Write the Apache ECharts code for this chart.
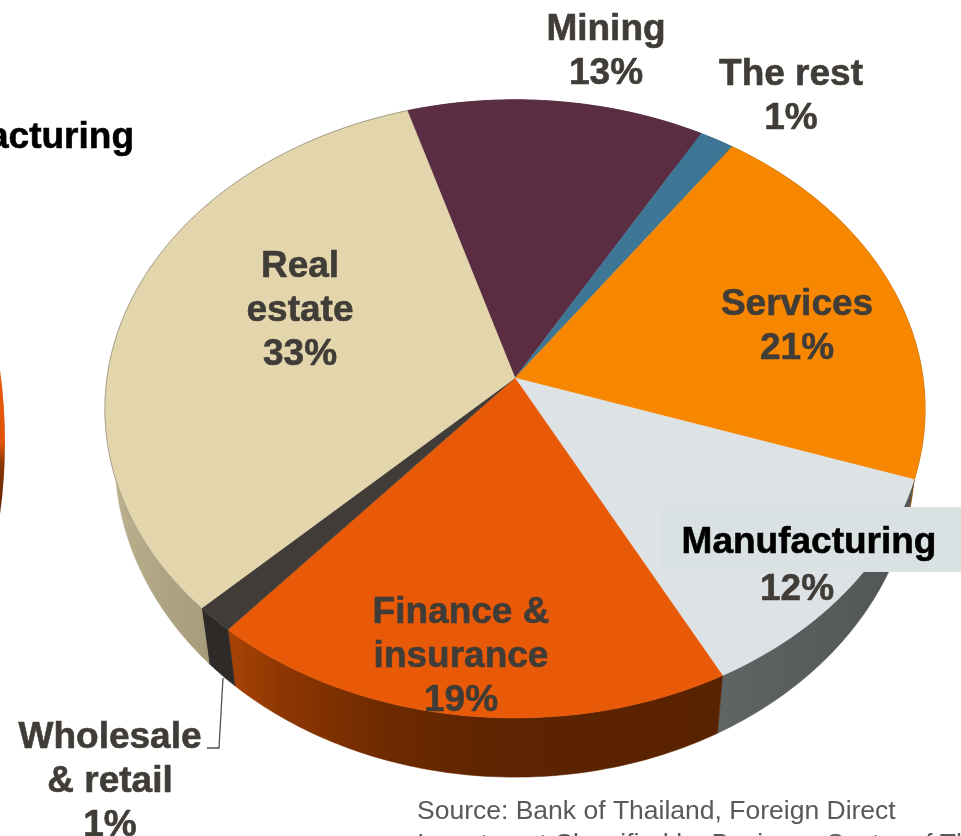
<!DOCTYPE html>
<html><head><meta charset="utf-8">
<style>html,body{margin:0;padding:0;background:#fff;overflow:hidden}#c{width:961px;height:836px}</style>
<script src="https://cdn.jsdelivr.net/npm/echarts@6/dist/echarts.min.js"></script>
</head><body><div id="c"></div>
<script>
// Data, clockwise from the top-left boundary of the Mining slice
const categories = ['Mining', 'The rest', 'Services', 'Manufacturing', 'Finance & insurance', 'Wholesale & retail', 'Real estate'];
const labelShares = [13, 1, 21, 12, 19, 1, 33];                    // as printed on the chart
const drawnShares = [12.9, 1.5, 20.4, 12.1, 18.9, 1.4, 32.6];
const topColors = ['#5A2D42', '#3E7695', '#F78700', '#DDE3E5', '#E85908', '#413C37', '#E3D5AC'];

const START_DEG = 106.8;
const K = 0.1;                                   // perspective factor of the tilted disc
const topRim = {cx: 515, cy: 378, a: 408, s: 306};
const lowRim = {cx: 515, cy: 426, a: 398, s: 316};
const rad = d => d * Math.PI / 180;
function project(r, deg) {
  const t = rad(deg), w = 1 + K * Math.sin(t);
  return [r.cx + r.a * Math.cos(t) / w, r.cy - r.s * Math.sin(t) / w];
}
function arc(r, d0, d1) {
  const n = Math.max(2, Math.ceil(Math.abs(d1 - d0))), pts = [];
  for (let i = 0; i <= n; i++) pts.push(project(r, d0 + (d1 - d0) * i / n));
  return pts;
}
function sliceRange(i) {
  const total = drawnShares.reduce((a, b) => a + b, 0);
  let before = 0;
  for (let j = 0; j < i; j++) before += drawnShares[j];
  return [START_DEG - before / total * 360, START_DEG - (before + drawnShares[i]) / total * 360];
}
const hGrad = (x0, x1, stops) => new echarts.graphic.LinearGradient(x0, 0, x1, 0,
  stops.map(s => ({offset: s[0], color: s[1]})), true);
const wallFill = [
  '#3A1D2A', '#274A5E', '#8B4B00',
  hGrad(718, 900, [[0, '#5F6464'], [0.4, '#5A5E5E'], [1, '#525656']]),
  hGrad(230, 720, [[0, '#A84306'], [0.1, '#8F3703'], [0.3, '#702B00'], [0.55, '#5C2400'], [1, '#5A2300']]),
  '#2E2A27',
  hGrad(110, 212, [[0, '#BDB290'], [0.5, '#B0A582'], [1, '#A69C7A']])
];

const wallSeries = {
  type: 'custom', coordinateSystem: 'none', silent: true, z: 2,
  data: drawnShares.map((v, i) => ({name: categories[i], value: v})),
  renderItem(params) {
    const [d0, d1] = sliceRange(params.dataIndex);
    const pts = arc(topRim, d0, d1).concat(arc(lowRim, d0, d1).reverse());
    const f = wallFill[params.dataIndex];
    return {type: 'polygon', shape: {points: pts}, style: {fill: f, stroke: f, lineWidth: 0.6}};
  }
};
const topSeries = {
  type: 'custom', coordinateSystem: 'none', silent: true, z: 3,
  data: drawnShares.map((v, i) => ({name: categories[i], value: v})),
  renderItem(params) {
    const i = params.dataIndex, [d0, d1] = sliceRange(i), rim = arc(topRim, d0, d1);
    const children = [{type: 'polygon', shape: {points: [[topRim.cx, topRim.cy]].concat(rim)},
      style: {fill: topColors[i], stroke: topColors[i], lineWidth: 0.5}}];
    if (categories[i] === 'Real estate') {
      children.push({type: 'polyline', shape: {points: rim},
        style: {fill: null, stroke: 'rgba(110,110,110,0.45)', lineWidth: 1}});
    }
    return {type: 'group', children};
  }
};

// Slice labels
const labelFont = 'bold 37px "Liberation Sans", Arial, sans-serif';
const ink = '#403C37';
function pct(name) { return labelShares[categories.indexOf(name)] + '%'; }
function txt(text, x, y, fill, font, align, heavy) {
  const c = fill || ink;
  return {type: 'text', z: 10, x, y, silent: true,
    style: {text, fill: c, font: font || labelFont, align: align || 'center', verticalAlign: 'middle', lineHeight: 44,
      stroke: heavy === false ? null : c, lineWidth: heavy === false ? 0 : 0.6}};
}
const sourceFont = '26.5px "Liberation Sans", Arial, sans-serif';
const graphics = [
  // neighbouring slide content cropped at the left edge
  {type: 'ellipse', z: 1, silent: true, shape: {cx: -295, cy: 442, rx: 300, ry: 395},
    style: {fill: new echarts.graphic.LinearGradient(0, 370, 0, 515, [
      {offset: 0, color: '#E85908'}, {offset: 0.5, color: '#E05508'}, {offset: 0.65, color: '#8A3703'}, {offset: 1, color: '#5A2300'}], true)}},
  {type: 'rect', z: 8, silent: true, shape: {x: 661, y: 507, width: 300, height: 65}, style: {fill: '#DAE1E3'}},
  {type: 'polyline', z: 8, silent: true, shape: {points: [[223, 678], [219, 748], [207, 748]]},
    style: {fill: null, stroke: '#55504A', lineWidth: 1.3}},
  txt('Manufacturing', 134, 138, '#000', null, 'right'),
  txt('Mining\n' + pct('Mining'), 606, 52),
  txt('The rest\n' + pct('The rest'), 791, 97),
  txt('Real\nestate\n' + pct('Real estate'), 300, 311),
  txt('Services\n' + pct('Services'), 797, 327),
  txt('Manufacturing', 809, 543, '#000'),
  txt(pct('Manufacturing'), 797, 590),
  txt('Finance &\ninsurance\n' + pct('Finance & insurance'), 461, 657),
  txt('Wholesale\n& retail\n' + pct('Wholesale & retail'), 110, 782),
  txt('Source: Bank of Thailand, Foreign Direct', 417, 812, '#595959', sourceFont, 'left', false),
  txt('Investment Classified by Business Sector of Thailand', 417, 845, '#595959', sourceFont, 'left', false)
];

const chart = echarts.init(document.getElementById('c'), null, {renderer: 'canvas', width: 961, height: 836});
chart.setOption({animation: false, backgroundColor: '#fff', series: [wallSeries, topSeries], graphic: {elements: graphics}});
</script></body></html>
